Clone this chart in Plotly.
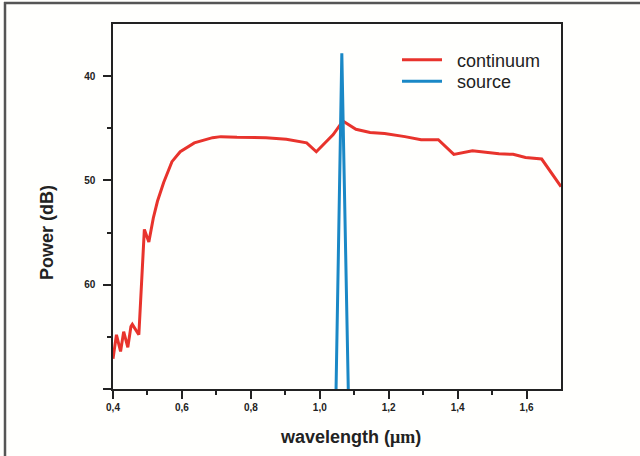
import plotly.graph_objects as go

# continuum spectrum (wavelength in µm, power in dB)
cont_x = [0.400, 0.410, 0.422, 0.431, 0.443, 0.452, 0.456, 0.475, 0.491, 0.504,
          0.517, 0.529, 0.547, 0.571, 0.595, 0.636, 0.689, 0.713, 0.760, 0.844,
          0.903, 0.962, 0.990, 1.016, 1.039, 1.067, 1.105, 1.146, 1.188, 1.247,
          1.294, 1.344, 1.389, 1.443, 1.484, 1.520, 1.561, 1.597, 1.644, 1.700]
cont_y = [67.1, 64.8, 66.4, 64.5, 66.0, 64.0, 63.8, 64.8, 54.7, 55.9,
          53.6, 52.0, 50.2, 48.2, 47.25, 46.4, 45.9, 45.8, 45.87, 45.9,
          46.05, 46.4, 47.25, 46.4, 45.6, 44.3, 45.1, 45.4, 45.5, 45.8,
          46.1, 46.1, 47.5, 47.15, 47.3, 47.45, 47.5, 47.8, 47.95, 50.6]

# pump source line
src_x = [1.047, 1.064, 1.083]
src_y = [70.5, 37.8, 70.5]

series_names = ["continuum", "source"]

x_ticks = [0.4, 0.6, 0.8, 1.0, 1.2, 1.4, 1.6]
x_minor = [0.5, 0.7, 0.9, 1.1, 1.3, 1.5]
y_ticks = [40, 50, 60, 70]
y_ticktext = ["40", "50", "60", ""]
y_minor = [45, 55, 65]

RED = "#e8332c"
BLUE = "#1a88c6"
AX = "#222222"
PAD = "\u00a0\u00a0"

fig = go.Figure()
fig.add_trace(go.Scatter(x=cont_x, y=cont_y, mode="lines", name=PAD + series_names[0],
                         line=dict(color=RED, width=3), legend="legend"))
fig.add_trace(go.Scatter(x=src_x, y=src_y, mode="lines", name=PAD + series_names[1],
                         line=dict(color=BLUE, width=3), legend="legend2"))

W, H = 640, 456
ml, mr, mt, mb = 113, 79, 24, 67
pw, ph = W - ml - mr, H - mt - mb


def px2paper_x(px):
    return (px - ml) / pw


def px2paper_y(py):
    return (H - mb - py) / ph


FONT = "Liberation Sans, Arial, sans-serif"
tickfont = dict(family=FONT, size=10, color="#222", weight="bold")
legfont = dict(family=FONT, size=18, color="#222")


def leg(top_px):
    return dict(x=px2paper_x(397), y=px2paper_y(top_px), xanchor="left", yanchor="top",
                bgcolor="rgba(0,0,0,0)", font=legfont, itemwidth=40)


fig.update_layout(
    width=W, height=H,
    margin=dict(l=ml, r=mr, t=mt, b=mb),
    paper_bgcolor="#fffffd",
    plot_bgcolor="#fffffd",
    separators=",.",
    showlegend=True,
    legend=leg(41.5),
    legend2=leg(63),
    xaxis=dict(range=[0.4, 1.7], showgrid=False, zeroline=False,
               showline=True, linecolor=AX, linewidth=1.5, mirror=True,
               tickmode="array", tickvals=x_ticks, tickformat=".1f",
               ticks="outside", ticklen=8, tickwidth=1.5, tickcolor=AX,
               tickfont=tickfont,
               minor=dict(tickmode="array", tickvals=x_minor, ticks="outside",
                          ticklen=4, tickwidth=1.5, tickcolor=AX)),
    yaxis=dict(range=[70, 35], showgrid=False, zeroline=False,
               showline=True, linecolor=AX, linewidth=1.5, mirror=True,
               tickmode="array", tickvals=y_ticks, ticktext=y_ticktext,
               ticks="outside", ticklen=8, tickwidth=1.5, tickcolor=AX,
               tickfont=tickfont, ticklabelstandoff=6,
               minor=dict(tickmode="array", tickvals=y_minor, ticks="outside",
                          ticklen=4, tickwidth=1.5, tickcolor=AX)),
    annotations=[
        dict(text="Power (dB)", xref="paper", yref="paper",
             x=px2paper_x(47), y=px2paper_y(233), textangle=-90,
             showarrow=False, xanchor="center", yanchor="middle",
             font=dict(family=FONT, size=18, color="#222", weight="bold")),
        dict(text="wavelength (<span style=\"font-family:'Liberation Serif',serif\">μm</span>)",
             xref="paper", yref="paper",
             x=px2paper_x(350), y=px2paper_y(437),
             showarrow=False, xanchor="center", yanchor="middle",
             font=dict(family=FONT, size=18, color="#222", weight="bold")),
    ],
    shapes=[
        dict(type="line", xref="paper", yref="paper",
             x0=px2paper_x(5), x1=px2paper_x(5), y0=px2paper_y(2), y1=px2paper_y(456),
             line=dict(color="#555", width=2.5)),
        dict(type="line", xref="paper", yref="paper",
             x0=px2paper_x(4), x1=px2paper_x(640), y0=px2paper_y(3), y1=px2paper_y(3),
             line=dict(color="#555", width=2.5)),
    ],
)

fig.write_html("out.html")
